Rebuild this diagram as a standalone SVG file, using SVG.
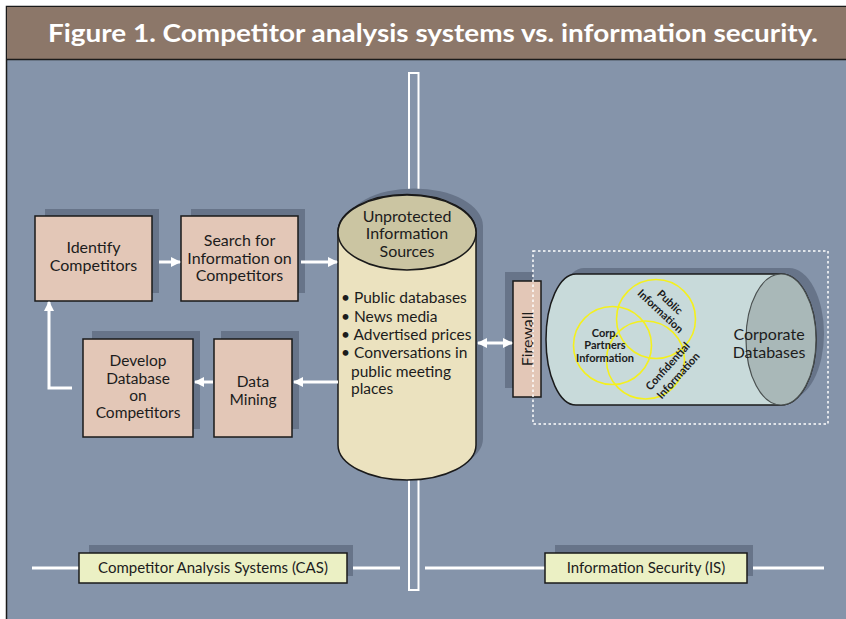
<svg xmlns="http://www.w3.org/2000/svg" width="846" height="619" viewBox="0 0 846 619">
<style>
text{font-family:Lato,"Liberation Sans",sans-serif;fill:#1c1c1c}
.lbl{font-size:16px;text-anchor:middle}
.box{fill:#e3c7b7;stroke:#1a1a1a;stroke-width:1.5}
.shd{fill:#677489}
.tag{fill:#ebf0c4;stroke:#1a1a1a;stroke-width:1.5}
.conn{stroke:#fff;stroke-width:3;fill:none}
.wl{stroke:#fff;stroke-width:3;fill:none}
.ci{fill:none;stroke:#f4f01e;stroke-width:1.6}
.bi{font-size:11px;font-weight:bold;text-anchor:middle}
</style>
<defs>
<marker id="ah" viewBox="0 0 10 10" refX="9" refY="5" markerWidth="10" markerHeight="11" markerUnits="userSpaceOnUse" orient="auto-start-reverse">
<path d="M0,0 L10,5 L0,10 Z" fill="#fff"/>
</marker>
</defs>
<rect x="0" y="0" width="846" height="619" fill="#fff"/>
<rect x="6.5" y="6.5" width="850" height="620" fill="#8594aa" stroke="#1a1a1a" stroke-width="1.5"/>
<rect x="7" y="7" width="839" height="52" fill="#8c7769"/>
<line x1="7" y1="59.5" x2="846" y2="59.5" stroke="#1a1a1a" stroke-width="1.5"/>
<text x="433" y="42" text-anchor="middle" style="font-size:25px;font-weight:bold;fill:#fff" textLength="770" lengthAdjust="spacingAndGlyphs">Figure 1. Competitor analysis systems vs. information security.</text>

<g id="divider">
<rect x="409" y="73" width="9.5" height="517" fill="none" stroke="#fff" stroke-width="2"/>
<line x1="32" y1="568" x2="400" y2="568" class="wl"/>
<line x1="425" y1="568" x2="824" y2="568" class="wl"/>
</g>

<g id="cas">
<rect x="89" y="545" width="264" height="31" class="shd"/>
<rect x="79" y="553" width="268" height="30" class="tag"/>
<text x="213" y="573" style="font-size:15px" text-anchor="middle">Competitor Analysis Systems (CAS)</text>
</g>
<g id="is">
<rect x="555" y="545" width="198" height="31" class="shd"/>
<rect x="545" y="553" width="202" height="30" class="tag"/>
<text x="646" y="573" style="font-size:15px" text-anchor="middle">Information Security (IS)</text>
</g>

<g id="identify">
<rect x="45" y="209" width="114" height="84" class="shd"/>
<rect x="35" y="216" width="117" height="85" class="box"/>
<text class="lbl" x="93.5" y="253">Identify</text>
<text class="lbl" x="93.5" y="271">Competitors</text>
</g>
<g id="search">
<rect x="191" y="209" width="114" height="84" class="shd"/>
<rect x="181" y="216" width="117" height="85" class="box"/>
<text class="lbl" x="239.5" y="246">Search for</text>
<text class="lbl" x="239.5" y="263.5">Information on</text>
<text class="lbl" x="239.5" y="281">Competitors</text>
</g>
<g id="develop">
<rect x="92" y="331" width="108" height="98" class="shd"/>
<rect x="83" y="339" width="110" height="98" class="box"/>
<text class="lbl" x="138" y="366" style="font-size:15.5px">Develop</text>
<text class="lbl" x="138" y="383.5" style="font-size:15.5px">Database</text>
<text class="lbl" x="138" y="400.5" style="font-size:15.5px">on</text>
<text class="lbl" x="138" y="418" style="font-size:15.5px">Competitors</text>
</g>
<g id="datamining">
<rect x="221" y="331" width="78" height="98" class="shd"/>
<rect x="214" y="339" width="78" height="98" class="box"/>
<text class="lbl" x="253" y="387" style="font-size:15.5px">Data</text>
<text class="lbl" x="253" y="404.5" style="font-size:15.5px">Mining</text>
</g>

<g id="sources">
<path d="M345,226 V439 A69,35 0 0 0 483,439 V226 A69,37.5 0 0 0 345,226 Z" class="shd"/>
<path d="M338,232 V445 A69,35 0 0 0 476,445 V232 A69,37.5 0 0 0 338,232 Z" fill="#ebe2bf" stroke="#1a1a1a" stroke-width="1.5"/>
<ellipse cx="407" cy="232.5" rx="69" ry="37.5" fill="#cbc5a2" stroke="#1a1a1a" stroke-width="1.5"/>
<text class="lbl" x="407" y="221.5">Unprotected</text>
<text class="lbl" x="407" y="239">Information</text>
<text class="lbl" x="407" y="256.5">Sources</text>
<g style="font-size:15.5px">
<text x="341" y="303">• Public databases</text>
<text x="341" y="322">• News media</text>
<text x="341" y="340">• Advertised prices</text>
<text x="341" y="358">• Conversations in</text>
<text x="351" y="377">public meeting</text>
<text x="351" y="394">places</text>
</g>
</g>

<g id="firewall">
<rect x="505" y="272" width="28" height="116" class="shd"/>
<rect x="513" y="281" width="28" height="116" class="box"/>
<text class="lbl" transform="translate(532.5,339) rotate(-90)">Firewall</text>
</g>

<g id="corporate">
<path d="M584,268 H789 A35,65.5 0 0 1 789,399 H584 A30,65.5 0 0 1 584,268 Z" class="shd"/>
<path d="M576,274 H781 A35,65.5 0 0 1 781,405 H576 A30,65.5 0 0 1 576,274 Z" fill="#c8dada" stroke="#1a1a1a" stroke-width="1.5"/>
<ellipse cx="781" cy="339.5" rx="35" ry="65.5" fill="#a9b8b8" stroke="#4a5050" stroke-width="1.2"/>
<circle cx="612.5" cy="345.5" r="39" class="ci"/>
<circle cx="656" cy="319" r="39.5" class="ci"/>
<circle cx="645.5" cy="360" r="39" class="ci"/>
<text class="bi" x="605" y="336.5">Corp.</text>
<text class="bi" x="605" y="349">Partners</text>
<text class="bi" x="605" y="361.5">Information</text>
<text class="bi" transform="translate(670,302) rotate(43)" dy="4">Public</text>
<text class="bi" transform="translate(660.5,311) rotate(43)" dy="4">Information</text>
<text class="bi" transform="translate(667.5,366) rotate(-48)" dy="4">Confidential</text>
<text class="bi" transform="translate(678,375.5) rotate(-48)" dy="4">Information</text>
<text x="769" y="339.5" text-anchor="middle" style="font-size:16px">Corporate</text>
<text x="769" y="357.5" text-anchor="middle" style="font-size:16px">Databases</text>
</g>

<g id="boundary">
<rect x="533" y="251" width="295" height="173" fill="none" stroke="#fff" stroke-width="1.5" stroke-dasharray="2.5,2.5"/>
</g>

<g id="connectors">
<line x1="159" y1="262" x2="180" y2="262" class="conn" marker-end="url(#ah)"/>
<line x1="301" y1="262" x2="337" y2="262" class="conn" marker-end="url(#ah)"/>
<line x1="338" y1="382" x2="294" y2="382" class="conn" marker-end="url(#ah)"/>
<line x1="213" y1="382" x2="195" y2="382" class="conn" marker-end="url(#ah)"/>
<polyline points="72,388 49,388 49,302" class="conn" marker-end="url(#ah)"/>
<line x1="478" y1="343" x2="512" y2="343" class="conn" marker-start="url(#ah)" marker-end="url(#ah)"/>
</g>
</svg>
